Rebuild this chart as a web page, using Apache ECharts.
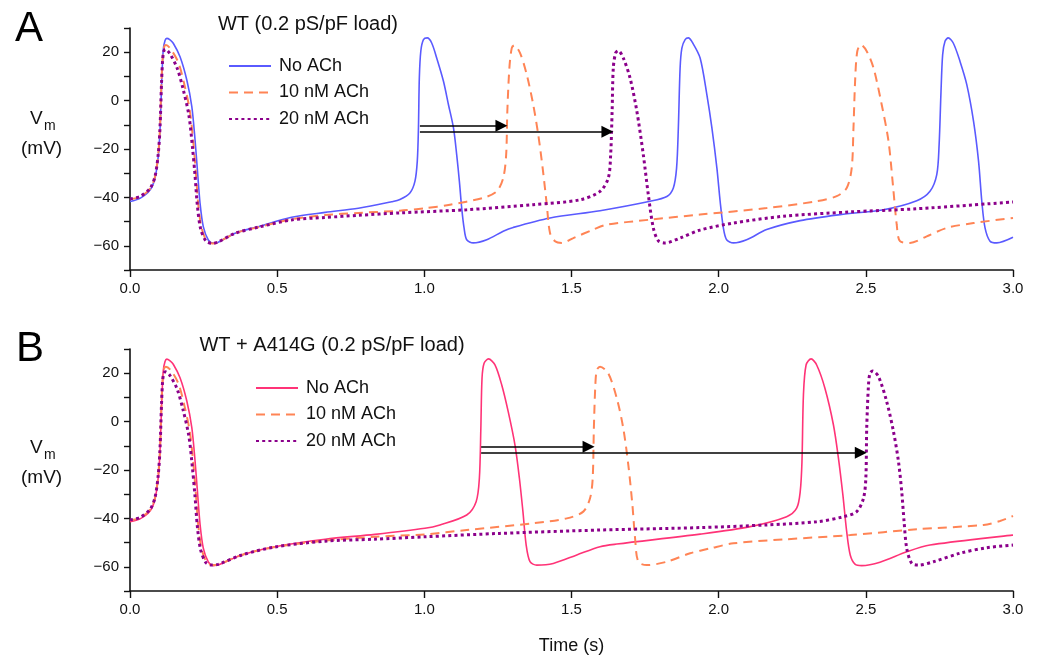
<!DOCTYPE html>
<html>
<head>
<meta charset="utf-8">
<script src="https://cdn.jsdelivr.net/npm/echarts@6/dist/echarts.min.js"></script>
<style>html,body{margin:0;padding:0;background:#fff;}#c{width:1038px;height:657px;}</style>
</head>
<body>
<div id="c"></div>
<script>
// ---- Data (time in s, Vm in mV) ----
const seriesNames = ['No ACh', '10 nM ACh', '20 nM ACh'];
const titleA = 'WT (0.2 pS/pF load)';
const titleB = 'WT + A414G (0.2 pS/pF load)';
const xTicks = [0, 0.5, 1.0, 1.5, 2.0, 2.5, 3.0];
const yTickLabels = [-60, -40, -20, 0, 20];

const wtNoACh = [[0,-41.7],[0.034,-40.4],[0.068,-37],[0.085,-32],[0.096,-23],[0.102,-12],[0.108,8.5],[0.113,21],[0.119,24.8],[0.125,25.7],[0.135,25.2],[0.147,23.7],[0.17,18.1],[0.193,8.5],[0.21,-2.5],[0.221,-16.3],[0.229,-28.7],[0.238,-42.4],[0.249,-52.1],[0.266,-57.6],[0.283,-58.9],[0.3,-58.5],[0.357,-54.8],[0.436,-52.1],[0.549,-48.2],[0.663,-46.2],[0.776,-44.5],[0.889,-41.8],[0.917,-40.9],[0.951,-38.2],[0.968,-33.4],[0.976,-25.1],[0.98,-11.3],[0.983,9.3],[0.988,20.4],[0.997,25.2],[1.01,25.9],[1.025,23.8],[1.042,17.6],[1.065,8],[1.082,-1.7],[1.099,-11.3],[1.11,-22.4],[1.119,-33.3],[1.127,-44.4],[1.135,-52.6],[1.144,-57.5],[1.166,-58.8],[1.212,-57.5],[1.268,-54],[1.302,-52.4],[1.427,-48.5],[1.597,-45.5],[1.767,-41.6],[1.824,-39.6],[1.846,-36.1],[1.857,-27.9],[1.863,-11.3],[1.869,13.5],[1.875,21.7],[1.886,25.2],[1.897,25.9],[1.912,23.8],[1.937,17.6],[1.96,2.4],[1.977,-11.3],[1.994,-27.9],[2.005,-41.6],[2.016,-52.6],[2.027,-57.5],[2.05,-58.8],[2.095,-57.5],[2.163,-53.3],[2.277,-49.6],[2.413,-47.1],[2.56,-45.1],[2.673,-41.4],[2.718,-37.5],[2.741,-30.6],[2.749,-18.2],[2.755,2.4],[2.761,19],[2.769,24.5],[2.78,25.9],[2.797,23.8],[2.82,16.2],[2.843,6.6],[2.866,-8.6],[2.883,-25.1],[2.894,-41.6],[2.905,-52.6],[2.922,-58.1],[2.945,-58.8],[3.0,-56.5]];

const wt10nM = [[0,-40.8],[0.034,-39.8],[0.068,-36.5],[0.085,-31.5],[0.096,-22],[0.102,-11],[0.107,8],[0.112,19],[0.117,22.5],[0.122,23],[0.14,21],[0.165,15.5],[0.185,6.5],[0.203,-4],[0.215,-17],[0.224,-30],[0.232,-43],[0.243,-52.5],[0.26,-57.8],[0.28,-59],[0.3,-58.5],[0.357,-54.8],[0.436,-52.3],[0.549,-49],[0.663,-47.3],[0.776,-46.4],[0.917,-45.5],[1.002,-44.5],[1.087,-43],[1.2,-40.2],[1.246,-37.5],[1.268,-32],[1.278,-22.4],[1.282,-4.4],[1.289,13.5],[1.297,21.7],[1.305,22.8],[1.325,19.7],[1.348,10.7],[1.37,-1.7],[1.387,-14.1],[1.402,-27.9],[1.416,-43],[1.427,-54.7],[1.444,-58.1],[1.467,-58.8],[1.506,-56.8],[1.574,-53.3],[1.62,-51.3],[1.767,-49.2],[1.937,-47.1],[2.163,-44.4],[2.333,-41.6],[2.401,-39.5],[2.435,-36.1],[2.452,-27.9],[2.458,-11.3],[2.464,9.3],[2.471,20.4],[2.483,23.1],[2.503,20.4],[2.526,13.5],[2.554,-1.7],[2.577,-16.8],[2.592,-34.8],[2.605,-51.3],[2.616,-58.1],[2.65,-58.8],[2.707,-56.1],[2.775,-52.6],[2.866,-50.6],[3.0,-48.5]];

const wt20nM = [[0,-40.6],[0.034,-39.6],[0.068,-36.3],[0.085,-31.3],[0.096,-22],[0.102,-11],[0.107,7],[0.111,17],[0.115,20.5],[0.12,21.2],[0.135,19.5],[0.16,13.5],[0.18,5],[0.2,-6],[0.212,-19],[0.221,-31],[0.229,-43.5],[0.24,-53],[0.258,-58],[0.278,-59],[0.3,-58.4],[0.357,-54.8],[0.436,-52.3],[0.549,-49.3],[0.663,-48.3],[0.776,-47.4],[0.917,-46.4],[1.144,-45.1],[1.37,-43],[1.529,-41],[1.597,-37.5],[1.625,-32],[1.633,-22.4],[1.638,-4.4],[1.642,13.5],[1.65,19.7],[1.659,20.6],[1.676,17.6],[1.699,9.3],[1.722,-4.4],[1.744,-22.4],[1.761,-38.9],[1.778,-52.6],[1.795,-57.9],[1.818,-58.8],[1.869,-56.8],[1.937,-53.5],[2.05,-50.6],[2.22,-47.8],[2.447,-46],[2.673,-44.7],[3.0,-41.9]];

const mutNoACh = [[0,-41.4],[0.034,-40.2],[0.068,-37],[0.085,-32],[0.096,-23],[0.102,-12],[0.108,8.5],[0.113,21],[0.119,24.8],[0.125,25.8],[0.135,25.2],[0.147,23.7],[0.17,18.1],[0.193,8.5],[0.21,-2.5],[0.221,-16.3],[0.229,-28.7],[0.238,-42.4],[0.249,-52.3],[0.266,-58],[0.283,-59.5],[0.3,-59.2],[0.38,-55.1],[0.493,-51.7],[0.663,-48.6],[0.832,-46.6],[1.002,-44.1],[1.053,-42.7],[1.144,-38.6],[1.176,-33.1],[1.187,-23.4],[1.192,-2.8],[1.196,17.9],[1.203,24.1],[1.218,25.9],[1.24,23.4],[1.263,15.1],[1.285,4.1],[1.308,-9.7],[1.323,-23.4],[1.335,-37.2],[1.346,-51],[1.359,-57.9],[1.382,-59.3],[1.438,-58.6],[1.518,-55.1],[1.597,-51.7],[1.654,-50.6],[1.937,-46.5],[2.107,-43.4],[2.231,-39.3],[2.265,-35.8],[2.277,-29],[2.283,-16.6],[2.288,11],[2.297,23.4],[2.314,25.9],[2.333,23.4],[2.361,13.8],[2.39,-1.4],[2.407,-15.2],[2.422,-30.3],[2.435,-45.5],[2.447,-55.1],[2.464,-59],[2.486,-59.5],[2.548,-58.1],[2.639,-53.8],[2.718,-51],[3.0,-46.9]];

const mut10nM = [[0,-40.8],[0.034,-39.8],[0.068,-36.5],[0.085,-31.5],[0.096,-22],[0.102,-11],[0.107,8],[0.112,19],[0.117,22.3],[0.122,22.7],[0.14,21],[0.165,15.5],[0.185,6.5],[0.203,-4],[0.215,-17],[0.224,-30],[0.232,-43],[0.243,-52.5],[0.26,-58],[0.28,-59.3],[0.3,-59],[0.38,-55.1],[0.493,-51.8],[0.663,-49.2],[0.832,-47.6],[1.002,-46.6],[1.144,-44.8],[1.37,-42],[1.484,-40],[1.54,-37.2],[1.563,-31.7],[1.572,-23.4],[1.576,-2.8],[1.581,15.1],[1.586,21.3],[1.597,22.7],[1.625,19.9],[1.654,9.6],[1.676,-2.8],[1.693,-17.9],[1.707,-34.5],[1.716,-48.2],[1.727,-57.9],[1.756,-59.3],[1.824,-57.9],[1.903,-54.4],[1.971,-52.4],[2.05,-50.3],[2.22,-48.7],[2.447,-46.9],[2.673,-44.5],[2.9,-42.7],[2.956,-41.1],[3.0,-39]];

const mut20nM = [[0,-40.6],[0.034,-39.6],[0.068,-36.3],[0.085,-31.3],[0.096,-22],[0.102,-11],[0.107,7],[0.111,17],[0.115,20],[0.12,20.6],[0.135,19.2],[0.16,13.5],[0.18,5],[0.2,-6],[0.212,-19],[0.221,-31],[0.229,-43.5],[0.24,-53],[0.258,-58.3],[0.278,-59.3],[0.3,-59],[0.38,-55.1],[0.493,-51.8],[0.663,-49.4],[0.832,-48.6],[1.002,-47.6],[1.257,-46.2],[1.597,-44.8],[1.937,-43.8],[2.163,-42.7],[2.333,-41.4],[2.424,-39.3],[2.469,-37.2],[2.492,-31.7],[2.5,-23.4],[2.503,-2.8],[2.509,15.1],[2.514,19.9],[2.523,20.9],[2.543,18.6],[2.571,8.2],[2.594,-4.2],[2.611,-16.6],[2.622,-29],[2.63,-41.4],[2.639,-52.4],[2.656,-58.6],[2.679,-59.3],[2.73,-57.9],[2.82,-54.4],[2.911,-52.1],[3.0,-51]];

// arrows: [startTime, endTime, Vm]
const arrowsA = [[0.985, 1.262, -10.4], [0.985, 1.622, -12.9]];
const arrowsB = [[1.193, 1.558, -10.4], [1.193, 2.483, -12.9]];

// ---- Styles ----
const FONT = '"Liberation Sans", Arial, Helvetica, sans-serif';
const colA = ['#5a5aff', '#ff8455', '#8b008b'];
const colB = ['#ff3377', '#ff8455', '#8b008b'];

const chart = echarts.init(document.getElementById('c'), null, {renderer: 'canvas'});

function fmtY(v) {
  if (yTickLabels.indexOf(v) < 0) return '';
  return v < 0 ? '\u2212' + Math.abs(v) : String(v);
}
function xAxisDef(idx, withName) {
  return {
    type: 'value', gridIndex: idx, min: xTicks[0], max: xTicks[xTicks.length - 1], interval: 0.5,
    axisLine: {onZero: false, lineStyle: {color: '#111', width: 1.6}},
    axisTick: {length: 7, lineStyle: {color: '#111', width: 1.4}},
    axisLabel: {formatter: v => v.toFixed(1), fontSize: 15, color: '#111', fontFamily: FONT, margin: 11},
    splitLine: {show: false},
    name: withName ? 'Time (s)' : '', nameLocation: 'middle', nameGap: 46,
    nameTextStyle: {fontSize: 18, color: '#111', fontFamily: FONT}
  };
}
function yAxisDef(idx) {
  return {
    type: 'value', gridIndex: idx, min: -70, max: 30, interval: 10,
    axisLine: {show: true, onZero: false, lineStyle: {color: '#111', width: 1.6}},
    axisTick: {show: true, length: 6, lineStyle: {color: '#111', width: 1.4}},
    axisLabel: {formatter: fmtY, fontSize: 15, color: '#111', fontFamily: FONT, margin: 11},
    splitLine: {show: false}
  };
}
function lineSeries(name, data, color, kind, idx) {
  const ls = {color: color, width: 1.6, type: 'solid'};
  if (kind === 1) { ls.width = 2; ls.type = [9, 6]; }
  if (kind === 2) { ls.width = 3; ls.type = [3, 3.2]; }
  return {
    type: 'line', name: name, xAxisIndex: idx, yAxisIndex: idx, data: data,
    showSymbol: false, symbol: 'none', symbolSize: 0, smooth: 0.3,
    lineStyle: ls, itemStyle: {color: color}, animation: false, z: 2 + kind
  };
}
function arrowSeries(arr, idx) {
  return {
    type: 'lines', coordinateSystem: 'cartesian2d', xAxisIndex: idx, yAxisIndex: idx,
    symbol: ['none', 'triangle'], symbolSize: [9, 12],
    lineStyle: {color: '#000', width: 1.6, opacity: 1},
    data: arr.map(a => ({coords: [[a[0], a[2]], [a[1], a[2]]]})),
    animation: false, z: 10
  };
}
const labelMap = {A0: seriesNames[0], A1: seriesNames[1], A2: seriesNames[2], B0: seriesNames[0], B1: seriesNames[1], B2: seriesNames[2]};
function legendDef(prefix, left, top) {
  return {
    data: [prefix + '0', prefix + '1', prefix + '2'], orient: 'vertical', left: left, top: top,
    padding: 0, itemWidth: 42, itemHeight: 14, itemGap: 8.5, selectedMode: false,
    itemStyle: {opacity: 0},
    formatter: n => labelMap[n],
    textStyle: {fontSize: 18, color: '#111', fontFamily: FONT, padding: [0, 0, 0, 3]}
  };
}

const option = {
  backgroundColor: '#fff',
  animation: false,
  textStyle: {fontFamily: FONT},
  title: [
    {text: titleA, left: 303, top: 9, textAlign: 'center', textStyle: {fontSize: 20, fontWeight: 'normal', color: '#111', fontFamily: FONT}},
    {text: titleB, left: 327, top: 330, textAlign: 'center', textStyle: {fontSize: 20, fontWeight: 'normal', color: '#111', fontFamily: FONT}}
  ],
  grid: [
    {left: 130, top: 28, width: 883, height: 242},
    {left: 130, top: 349, width: 883, height: 242}
  ],
  xAxis: [xAxisDef(0, false), xAxisDef(1, true)],
  yAxis: [yAxisDef(0), yAxisDef(1)],
  legend: [legendDef('A', 228, 57), legendDef('B', 255, 379)],
  graphic: [
    {type: 'text', left: 15, top: 8, style: {text: 'A', fontSize: 42, fill: '#000', fontFamily: FONT}},
    {type: 'text', left: 16, top: 328, style: {text: 'B', fontSize: 42, fill: '#000', fontFamily: FONT}},
    {type: 'text', left: 30, top: 109, style: {text: 'V', fontSize: 19, fill: '#111', fontFamily: FONT}},
    {type: 'text', left: 44, top: 119, style: {text: 'm', fontSize: 14, fill: '#111', fontFamily: FONT}},
    {type: 'text', left: 21, top: 139, style: {text: '(mV)', fontSize: 19, fill: '#111', fontFamily: FONT}},
    {type: 'text', left: 30, top: 438, style: {text: 'V', fontSize: 19, fill: '#111', fontFamily: FONT}},
    {type: 'text', left: 44, top: 448, style: {text: 'm', fontSize: 14, fill: '#111', fontFamily: FONT}},
    {type: 'text', left: 21, top: 468, style: {text: '(mV)', fontSize: 19, fill: '#111', fontFamily: FONT}}
  ],
  series: [
    lineSeries('A0', wtNoACh, colA[0], 0, 0),
    lineSeries('A1', wt10nM, colA[1], 1, 0),
    lineSeries('A2', wt20nM, colA[2], 2, 0),
    arrowSeries(arrowsA, 0),
    lineSeries('B0', mutNoACh, colB[0], 0, 1),
    lineSeries('B1', mut10nM, colB[1], 1, 1),
    lineSeries('B2', mut20nM, colB[2], 2, 1),
    arrowSeries(arrowsB, 1)
  ]
};
chart.setOption(option);
</script>
</body>
</html>
